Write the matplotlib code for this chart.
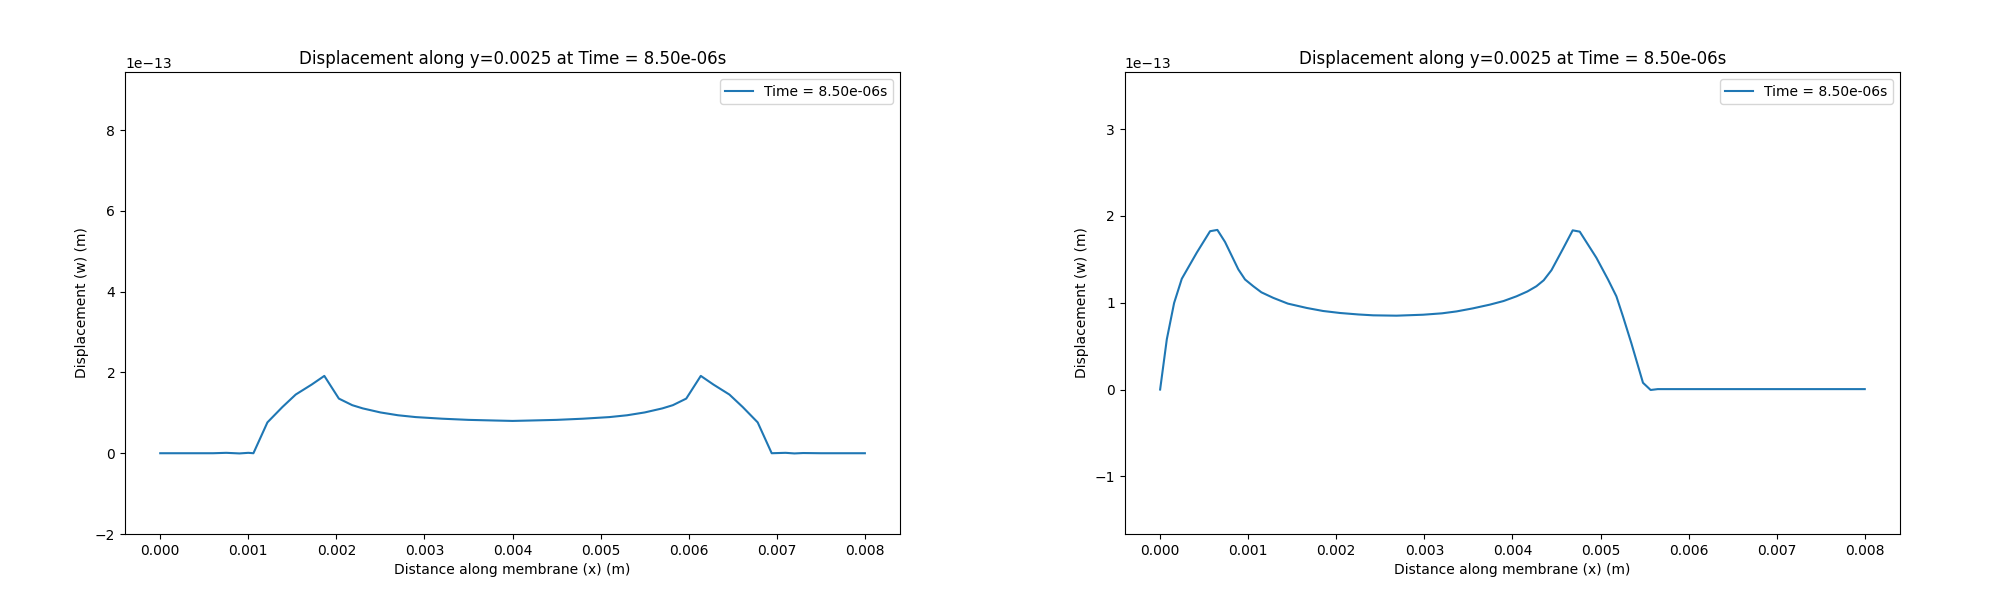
import matplotlib
matplotlib.use("Agg")
import matplotlib.pyplot as plt
import numpy as np

# Left panel data (x in m, w in units of 1e-13 m)
x_left = [0.0, 0.0002, 0.0004, 0.0006, 0.00075, 0.0009, 0.001, 0.001058,
          0.001217, 0.001387, 0.001538, 0.001719, 0.001863, 0.002028, 0.00218,
          0.0023, 0.0025, 0.0027, 0.0029, 0.0032, 0.0035, 0.0038, 0.0040,
          0.0042, 0.0045, 0.0048, 0.0051, 0.0053, 0.0055, 0.0057, 0.00582,
          0.005972, 0.006137, 0.006281, 0.006462, 0.006613, 0.006783, 0.006942,
          0.0071, 0.0072, 0.0073, 0.0075, 0.0078, 0.0080]
w_left = [0.0, 0.0, 0.0, 0.0, 0.01, -0.005, 0.01, 0.0,
          0.764, 1.144, 1.453, 1.70, 1.915, 1.353, 1.19,
          1.11, 1.01, 0.94, 0.895, 0.855, 0.826, 0.81, 0.80,
          0.81, 0.826, 0.855, 0.895, 0.94, 1.01, 1.11, 1.19,
          1.353, 1.915, 1.70, 1.453, 1.144, 0.764, 0.0,
          0.01, -0.005, 0.005, 0.0, 0.0, 0.0]

# Right panel data
x_right = [0.0, 0.000076, 0.000159, 0.000246, 0.000416, 0.000567, 0.00065,
           0.000737, 0.000888, 0.000964, 0.001058, 0.00115, 0.001285, 0.00145,
           0.001664, 0.00185, 0.002042, 0.00225, 0.002419, 0.002684, 0.002986,
           0.0032, 0.003365, 0.00355, 0.003743, 0.0039, 0.004046, 0.00417,
           0.004272, 0.004355, 0.004443, 0.004574, 0.004684, 0.004764,
           0.004953, 0.005085, 0.00518, 0.005255, 0.00535, 0.005482,
           0.005569, 0.00565, 0.0065, 0.0072, 0.0080]
w_right = [0.0, 0.579, 0.998, 1.276, 1.577, 1.824, 1.839,
           1.70, 1.384, 1.268, 1.19, 1.12, 1.056, 0.99,
           0.94, 0.905, 0.882, 0.865, 0.855, 0.851, 0.862,
           0.878, 0.90, 0.935, 0.978, 1.02, 1.074, 1.13,
           1.19, 1.259, 1.375, 1.622, 1.834, 1.819,
           1.518, 1.268, 1.074, 0.842, 0.534, 0.078,
           -0.005, 0.005, 0.005, 0.005, 0.005]

scale = 1e-13
title = "Displacement along y=0.0025 at Time = 8.50e-06s"
label = "Time = 8.50e-06s"
ylims = [(-2.0, 9.44), (-1.664, 3.658)]

fig, axes = plt.subplots(1, 2, figsize=(20, 6), dpi=100)
fig.subplots_adjust(left=0.0625, right=0.95, bottom=0.11, top=0.88, wspace=0.29)

for ax, xs, ws, yl in zip(axes, [x_left, x_right], [w_left, w_right], ylims):
    ax.plot(xs, np.array(ws) * scale, label=label)
    ax.set_title(title)
    ax.set_xlabel("Distance along membrane (x) (m)")
    ax.set_ylabel("Displacement (w) (m)")
    ax.set_ylim(yl[0] * scale, yl[1] * scale)
    ax.legend(loc="upper right")

fig.savefig("out.png", dpi=100)
